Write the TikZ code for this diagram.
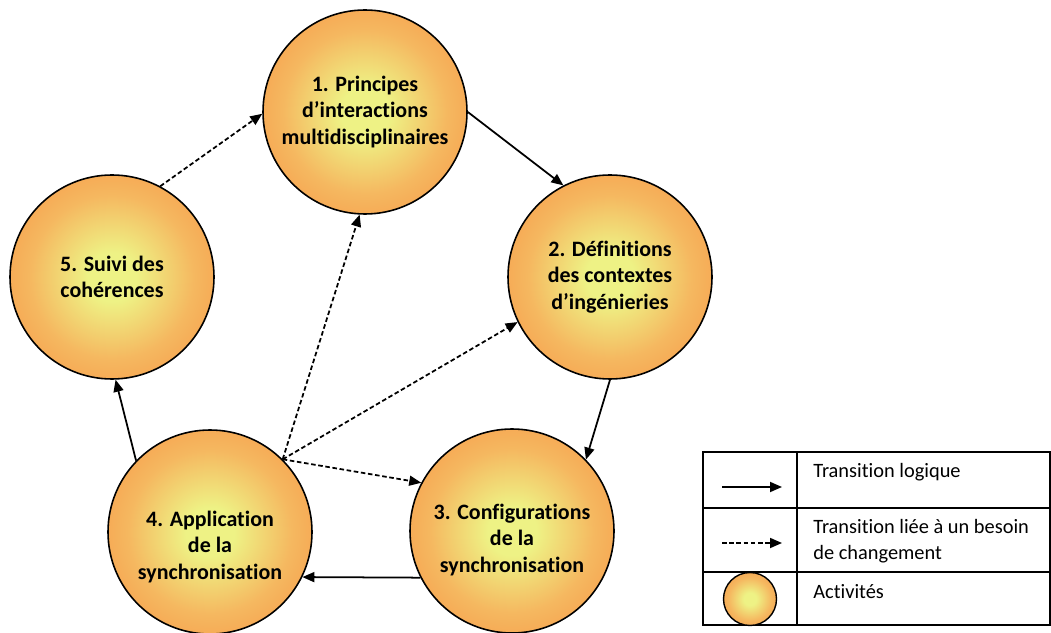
\documentclass[tikz,border=0pt]{standalone}
\usepackage{fontspec}
\setmainfont{Carlito}[Ligatures={NoCommon,NoRare,NoContextual}]
\usetikzlibrary{arrows.meta}
\definecolor{actorange}{HTML}{F79646}
\definecolor{actmilieu}{HTML}{F5B860}
\definecolor{actjaune}{HTML}{EEF285}
\pgfdeclareradialshading{activite}{\pgfpointorigin}{color(0bp)=(actjaune); color(6bp)=(actjaune); color(20bp)=(actmilieu); color(34bp)=(actorange); color(50bp)=(actorange)}

\tikzset{
  activite/.style={circle, draw, line width=0.9pt, shading=activite, minimum size=4.08cm, inner sep=0pt},
  acttexte/.style={align=center, inner sep=0pt, font=\bfseries\fontsize{12.5}{15.2}\selectfont},
  legtexte/.style={align=left, anchor=base west, inner sep=0pt, font=\fontsize{11.6}{14.5}\selectfont},
  trans/.style={->, line width=1pt},
  besoin/.style={->, line width=1pt, dash pattern=on 2.6pt off 1.5pt}
}

\begin{document}
\begin{tikzpicture}[>={Triangle[length=2.4mm,width=2mm]}]
  \useasboundingbox (0,0) rectangle (21.02,12.64);

  % Activities
  \node[activite] (c1) at (7.30,10.40) {};
  \node[activite] (c2) at (12.20,7.10) {};
  \node[activite] (c3) at (10.24,2.02) {};
  \node[activite] (c4) at (4.20,2.00) {};
  \node[activite] (c5) at (2.24,7.10) {};

  % Activity texts
  \node[acttexte] (t1) at (c1) {1. Principes\\d’interactions\\multidisciplinaires};
  \node[acttexte] (t2) at (c2) {2. Définitions\\des contextes\\d’ingénieries};
  \node[acttexte] (t3) at ([yshift=-0.18cm]c3) {3. Configurations\\de la\\synchronisation};
  \node[acttexte] (t4) at ([yshift=-0.30cm]c4) {4. Application\\de la\\synchronisation};
  \node[acttexte] (t5) at (c5) {5. Suivi des\\cohérences};

  % Logical transitions
  \draw[trans] (c1.0) -- (c2.117);
  \draw[trans] (c2.270) -- (c3.44);
  \draw[trans] (c3.207) -- (c4.334);
  \draw[trans] (c4.136) -- (c5.272);

  % Transitions from a change need
  \draw[besoin] (c5.62) -- (c1.181);
  \draw[besoin] (c4.45) -- (c1.267);
  \draw[besoin] (c4.45) -- (c2.206);
  \draw[besoin] (c4.45) -- (c3.152);

  % Legend table
  \draw[line width=0.9pt] (14.06,0.14) rectangle (21.0,3.60);
  \draw[line width=0.9pt] (14.06,2.48) -- (21.0,2.48);
  \draw[line width=0.9pt] (14.06,1.20) -- (21.0,1.20);
  \draw[line width=0.9pt] (15.94,0.14) -- (15.94,3.60);

  % Legend symbols
  \coordinate (lg1a) at (14.44,2.90);
  \coordinate (lg1b) at (15.64,2.90);
  \draw[trans] (lg1a) -- (lg1b);
  \coordinate (lg2a) at (14.44,1.78);
  \coordinate (lg2b) at (15.64,1.78);
  \draw[besoin] (lg2a) -- (lg2b);
  \node[activite, minimum size=1.06cm, line width=0.8pt] (lcercle) at (15.0,0.66) {};

  % Legend texts (base = last line)
  \node[legtexte] (l1) at (16.26,3.10) {Transition logique};
  \node[legtexte] (l2) at (16.26,1.46) {Transition liée à un besoin\\de changement};
  \node[legtexte] (l3) at (16.26,0.68) {Activités};
\end{tikzpicture}
\end{document}
